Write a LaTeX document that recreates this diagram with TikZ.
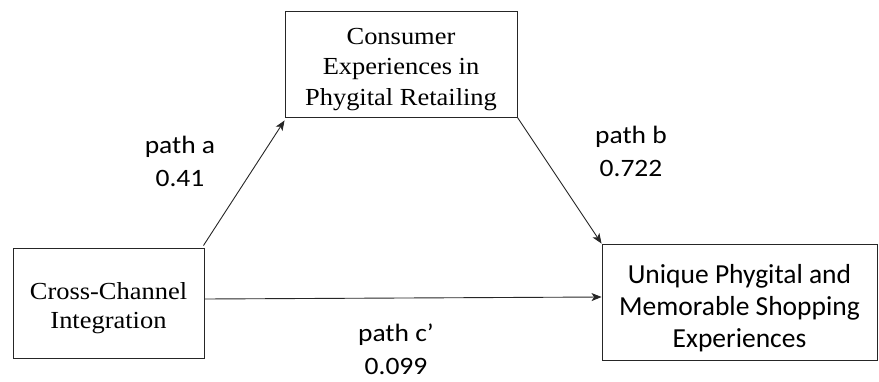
\documentclass[tikz,border=0pt]{standalone}
\usepackage{fontspec}
\usetikzlibrary{arrows.meta}
\newfontfamily\tnrfont[FakeStretch=1.08]{Liberation Serif}
\newfontfamily\calfont{Carlito}
\newfontfamily\callabfont[FakeStretch=1.1]{Carlito}
\newcommand\hstrut[1]{\rule{0pt}{#1}}
\newcommand\dstrut[1]{\rule[-#1]{0pt}{#1}}
\begin{document}
\begin{tikzpicture}[x=1pt,y=-1pt,
  box/.style={draw=black!85,line width=0.9pt,rectangle,align=center,inner sep=0pt},
  topbox/.style={box,font=\tnrfont\fontsize{24.5}{30.5}\selectfont},
  leftbox/.style={box,font=\tnrfont\fontsize{24.5}{29}\selectfont},
  sansbox/.style={box,font=\calfont\fontsize{27.5}{32}\selectfont},
  lab/.style={align=center,inner sep=0pt,font=\callabfont\fontsize{25}{33.5}\selectfont},
  conn/.style={draw=black!85,line width=0.9pt,-{Stealth[length=10pt,width=8pt,inset=2.5pt]}}]
\useasboundingbox (0,0) rectangle (879,381);
\node[topbox,minimum width=232pt,minimum height=106pt] (top) at (401,64)
  {\hstrut{27pt}Consumer\\Experiences in\\Phygital Retailing\dstrut{6pt}};
\node[leftbox,minimum width=191pt,minimum height=110pt] (left) at (108.5,303)
  {\hstrut{27pt}Cross-Channel\\Integration\dstrut{6pt}};
\node[sansbox,minimum width=275pt,minimum height=116pt] (right) at (739.5,302)
  {\hstrut{32pt}Unique Phygital and\\Memorable Shopping\\Experiences\dstrut{6pt}};
\draw[conn] ([xshift=-1pt,yshift=2pt]left.north east) -- ([yshift=-3pt]top.south west);
\draw[conn] (top.south east) -- (right.north west);
\draw[conn] ([yshift=4pt]left.east) -- ([yshift=5pt]right.west);
\node[lab] (la) at (180,160.75) {\hstrut{19pt}path a\\0.41\dstrut{1pt}};
\node[lab] (lb) at (631,150.75) {\hstrut{19pt}path b\\0.722\dstrut{1pt}};
\node[lab] (lc) at (396,349) {\hstrut{19pt}path c’\\0.099\dstrut{1pt}};
\end{tikzpicture}
\end{document}
